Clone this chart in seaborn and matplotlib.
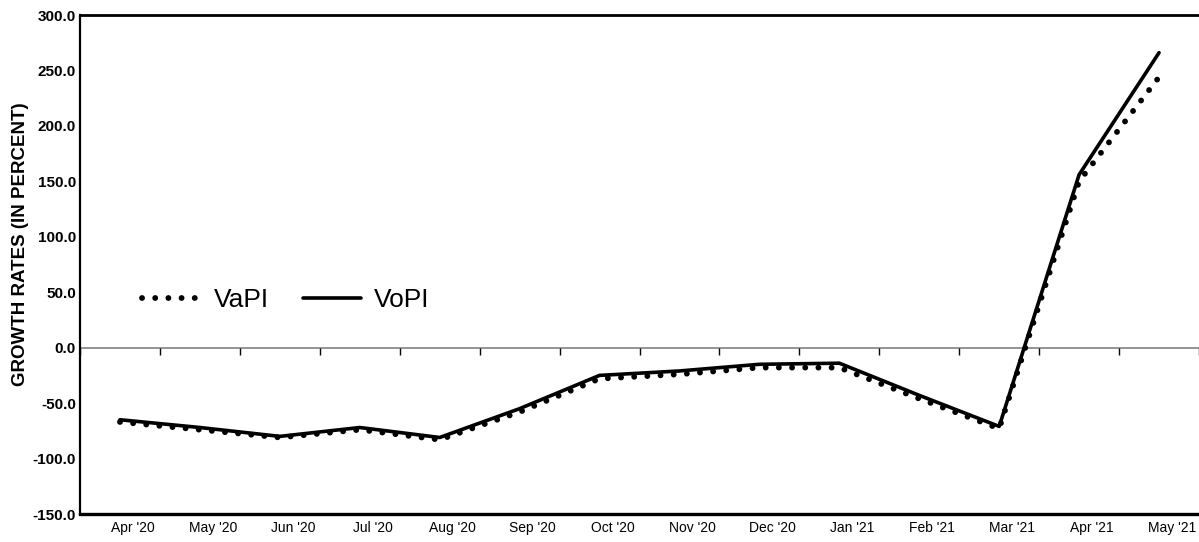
import numpy as np
import pandas as pd
import matplotlib
matplotlib.use("Agg")
import matplotlib.pyplot as plt
import matplotlib.transforms as mtransforms
import seaborn as sns

months = ["Apr '20", "May '20", "Jun '20", "Jul '20", "Aug '20", "Sep '20", "Oct '20",
          "Nov '20", "Dec '20", "Jan '21", "Feb '21", "Mar '21", "Apr '21", "May '21"]
vapi = [-67, -74, -81, -74, -83, -58, -28, -24, -18, -18, -46, -73, 150, 244]
vopi = [-65, -72, -80, -72, -81, -55, -25, -21, -15, -14, -43, -71, 156, 266]
yticks = [-150, -100, -50, 0, 50, 100, 150, 200, 250, 300]

df = pd.DataFrame({"month": months, "VaPI": vapi, "VoPI": vopi})
df["pos"] = np.arange(len(months))

sns.set_style("white")
plt.rcParams["font.family"] = ["Liberation Sans", "DejaVu Sans"]
plt.rcParams["text.color"] = "black"
plt.rcParams["axes.labelcolor"] = "black"
plt.rcParams["xtick.color"] = "black"
plt.rcParams["ytick.color"] = "black"

fig = plt.figure(figsize=(11.99, 5.42), dpi=100)
ax = fig.add_axes([80 / 1199, 1 - 514 / 542, 1 - 80 / 1199, (514 - 15) / 542])

# zero line
ax.axhline(0, color="#808080", lw=1.2, zorder=1)

sns.lineplot(data=df, x="pos", y="VaPI", ax=ax, color="black", lw=4.2,
             linestyle=(0, (0.01, 2.25)), dash_capstyle="round",
             label="VaPI", zorder=3)
sns.lineplot(data=df, x="pos", y="VoPI", ax=ax, color="black", lw=2.6,
             label="VoPI", zorder=4)

ax.set_xlim(-0.5, len(months) - 0.5)
ax.set_ylim(-150, 300)
ax.set_xticks(df["pos"])
ax.set_xticklabels(months, fontsize=10)
ax.set_yticks(yticks)
ax.set_yticklabels([f"{v:.1f}" for v in yticks], fontsize=11, fontweight="bold")
ax.tick_params(axis="both", length=0)
ax.tick_params(axis="x", pad=5)
ax.tick_params(axis="y", pad=3)
offset = mtransforms.ScaledTranslation(13 / 100, 0, fig.dpi_scale_trans)
for lab in ax.get_xticklabels():
    lab.set_transform(lab.get_transform() + offset)

ax.set_xlabel("")
ax.set_ylabel("GROWTH RATES (IN PERCENT)", fontsize=13.5, fontweight="bold", color="black")
ax.yaxis.set_label_coords(-0.046, 0.54)

for side in ["left", "top", "bottom"]:
    ax.spines[side].set_visible(True)
    ax.spines[side].set_color("black")
ax.spines["left"].set_linewidth(1.6)
ax.spines["top"].set_linewidth(2.0)
ax.spines["bottom"].set_linewidth(2.4)
ax.spines["right"].set_visible(False)

# tick marks between categories, on the zero line
ax2 = ax.twiny()
ax2.set_xlim(ax.get_xlim())
ax2.xaxis.set_ticks_position("bottom")
ax2.spines["bottom"].set_position(("data", 0))
for side in ["left", "top", "right", "bottom"]:
    ax2.spines[side].set_visible(False)
ax2.set_xticks(np.arange(len(months) + 1) - 0.5)
ax2.set_xticklabels([])
ax2.tick_params(axis="x", direction="out", length=5, width=1, color="black", bottom=True, top=False)
ax2.patch.set_visible(False)

ax.legend(loc="center", bbox_to_anchor=(286 / 1199, 1 - 300 / 542),
          bbox_transform=fig.transFigure, ncol=2, frameon=False, fontsize=19,
          handlelength=2.2, handletextpad=0.5, columnspacing=1.3)

fig.savefig("out.png", dpi=100)
